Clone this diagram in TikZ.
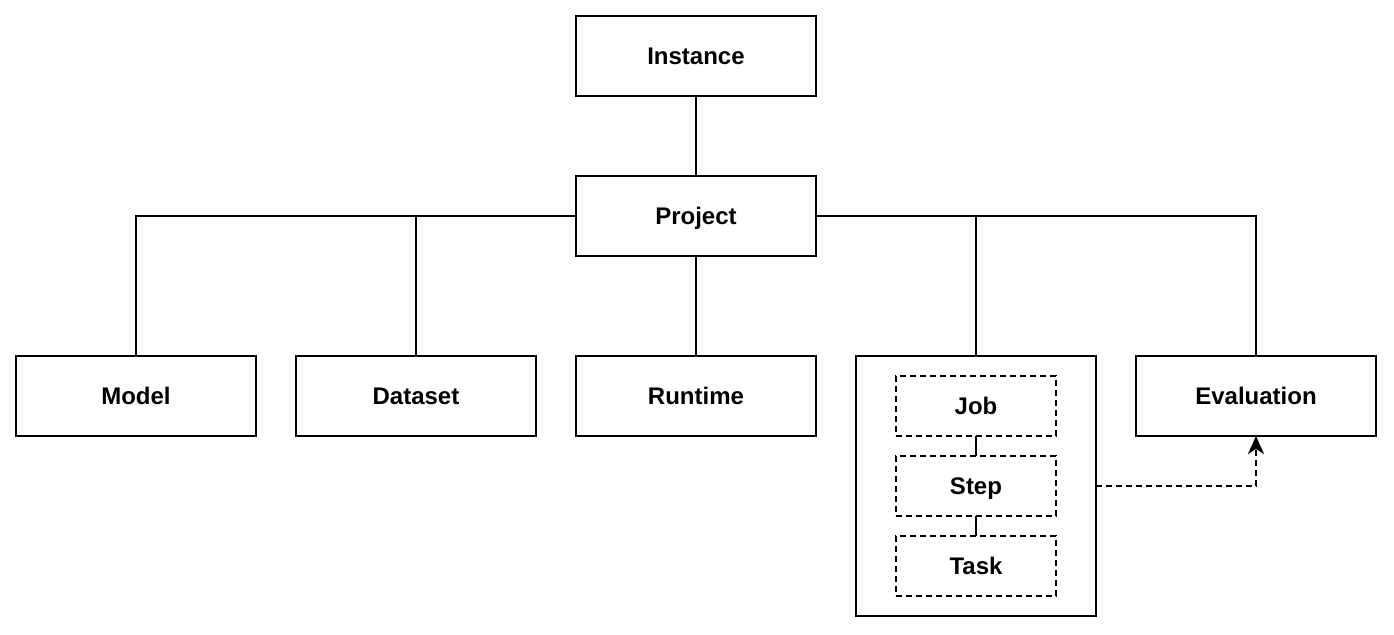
\documentclass[tikz,border=0pt]{standalone}
\usepackage{fontspec}
\setmainfont{Liberation Sans}
\usetikzlibrary{arrows.meta, positioning}
\tikzset{%
>={Stealth[width=8pt,length=9pt,inset=2.5pt]},
  % Specifications for style of nodes:
            base/.style = {rectangle, draw=black, line width=1pt,
                            fill=white, minimum width=120pt, minimum
                            height=40pt, inner sep=0pt, outer sep=0pt,
                            text height=8.7pt, text depth=0pt,
                            font=\bfseries\fontsize{12}{14}\selectfont},
            sub/.style = {base, dash pattern=on 3pt off 2pt,
                            minimum width=80pt, minimum height=30pt},
            holder/.style = {rectangle, draw=black, line width=1pt, outer sep=0pt,
                            minimum width=120pt, minimum height=130pt}
}
\begin{document}
\begin{tikzpicture}[node distance=20pt, line width=1pt]
                \useasboundingbox (-348pt,108pt) rectangle (349pt,-209pt);

                \node[base] (proj) at (0,0) {Project};
                \node[base, above=40pt of proj] (inst) {Instance};
                \node[base, below=50pt of proj] (run) {Runtime};
                \node[base, left=of run] (data) {Dataset};
                \node[base, left=of data] (model) {Model};
                \node[holder, right=of run.north east, anchor=north west] (work) {};
                \node[base, right=of work.north east, anchor=north west] (eval) {Evaluation};

                \node[sub, below=10pt of work.north] (job) {Job};
                \node[sub, below=10pt of job] (step) {Step};
                \node[sub, below=10pt of step] (task) {Task};

                \draw (inst) -- (proj);
                \draw (proj) -- (run);
                \draw (proj.west) -| (model.north);
                \draw (proj.west) -| (data.north);
                \draw (proj.east) -| (work.north);
                \draw (proj.east) -| (eval.north);
                \draw (job) -- (step);
                \draw (step) -- (task);
                \draw[->, dash pattern=on 3pt off 2pt] (work.east) -| (eval.south);

            \end{tikzpicture}
\end{document}
